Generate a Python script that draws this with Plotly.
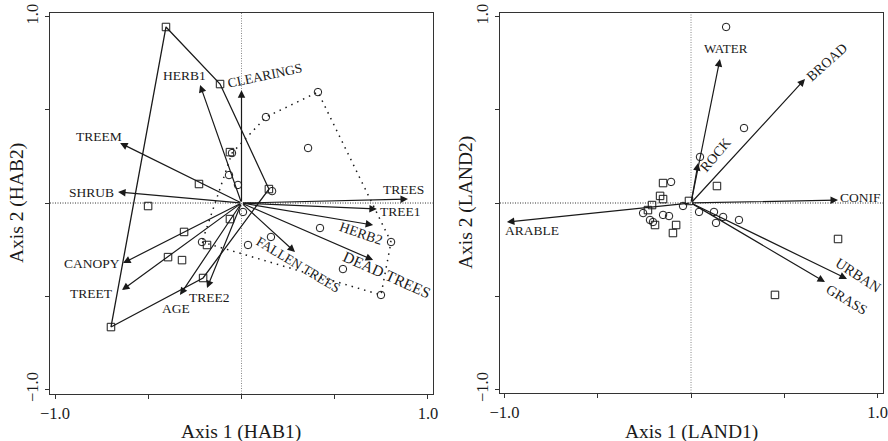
import plotly.graph_objects as go

FONT = "Liberation Serif, Times New Roman, serif"
INK = "#1a1a1a"

# ---------------- Left panel: habitat variables ----------------
hab_vars = ["CLEARINGS", "HERB1", "TREEM", "SHRUB", "CANOPY", "TREET", "AGE",
            "TREE2", "TREES", "TREE1", "HERB2", "FALLEN TREES", "DEAD TREES"]
hab_x = [0.0, -0.222, -0.651, -0.662, -0.635, -0.641, -0.330,
         -0.185, 0.893, 0.726, 0.706, 0.287, 0.706]
hab_y = [0.605, 0.633, 0.322, 0.059, -0.322, -0.467, -0.493,
         -0.456, 0.021, -0.032, -0.118, -0.263, -0.306]
hab_lab_x = [0.126, -0.308, -0.764, -0.802, -0.802, -0.802, -0.351,
             -0.169, 0.871, 0.855, 0.641, 0.303, 0.780]
hab_lab_y = [0.686, 0.686, 0.359, 0.054, -0.322, -0.483, -0.563,
             -0.504, 0.070, -0.043, -0.161, -0.327, -0.381]
hab_lab_angle = [-12, 0, 0, 0, 0, 0, 0, 0, 0, 0, 19, 31, 24]
hab_lab_size = [13.5, 13.5, 13.5, 13.5, 13.5, 13.5, 13.5, 13.5, 13.5, 13.5, 14, 13.5, 15.5]

hab_sq_x = [-0.405, -0.115, -0.062, -0.228, 0.147, -0.501, -0.062,
            -0.308, -0.185, -0.394, -0.319, -0.206, -0.700]
hab_sq_y = [0.944, 0.638, 0.273, 0.102, 0.075, -0.016, -0.086,
            -0.155, -0.225, -0.290, -0.306, -0.402, -0.665]
hab_ci_x = [0.410, 0.131, 0.357, -0.051, -0.067, -0.019, 0.164, 0.008,
            -0.212, 0.035, 0.158, 0.421, 0.802, 0.544, 0.748]
hab_ci_y = [0.595, 0.461, 0.295, 0.268, 0.150, 0.097, 0.064, -0.048,
            -0.209, -0.225, -0.182, -0.134, -0.209, -0.354, -0.493]

# ---------------- Right panel: landscape variables ----------------
land_vars = ["WATER", "BROAD", "ROCK", "CONIF", "ARABLE", "URBAN", "GRASS"]
land_x = [0.155, 0.611, 0.038, 0.788, -0.987, 0.836, 0.718]
land_y = [0.772, 0.665, 0.214, 0.016, -0.102, -0.407, -0.424]
land_lab_x = [0.188, 0.729, 0.129, 0.906, -0.853, 0.895, 0.831]
land_lab_y = [0.831, 0.751, 0.257, 0.027, -0.145, -0.386, -0.520]
land_lab_angle = [0, -42, -50, 0, 0, 33, 31]
land_lab_size = [13, 14, 14, 13.5, 13.5, 14.5, 14]

land_sq_x = [-0.150, -0.166, -0.150, -0.209, -0.231, 0.139, -0.011,
             -0.080, -0.097, -0.193, 0.788, 0.450]
land_sq_y = [0.107, 0.038, 0.021, -0.011, -0.038, 0.091, 0.011,
             -0.118, -0.161, -0.118, -0.193, -0.493]
land_ci_x = [0.188, 0.284, 0.048, -0.107, -0.043, -0.257, -0.220, -0.204,
             -0.150, -0.118, 0.043, 0.123, 0.172, 0.134, 0.257]
land_ci_y = [0.944, 0.402, 0.247, 0.113, -0.016, -0.054, -0.091, -0.102,
             -0.064, -0.070, -0.048, -0.048, -0.075, -0.107, -0.091]

tick_vals = [-1.0, -0.5, 0.0, 0.5, 1.0]
tick_text = ["\u22121.0", "", "", "", "1.0"]


def hull(xs, ys):
    pts = sorted(set(zip(xs, ys)))

    def cross(o, a, b):
        return (a[0] - o[0]) * (b[1] - o[1]) - (a[1] - o[1]) * (b[0] - o[0])

    lower, upper = [], []
    for p in pts:
        while len(lower) >= 2 and cross(lower[-2], lower[-1], p) <= 0:
            lower.pop()
        lower.append(p)
    for p in reversed(pts):
        while len(upper) >= 2 and cross(upper[-2], upper[-1], p) <= 0:
            upper.pop()
        upper.append(p)
    h = lower[:-1] + upper[:-1]
    h.append(h[0])
    return [p[0] for p in h], [p[1] for p in h]


fig = go.Figure()

# hulls (left panel)
hx, hy = hull(hab_sq_x, hab_sq_y)
fig.add_trace(go.Scatter(x=hx, y=hy, mode="lines", line=dict(color=INK, width=1.3),
                         xaxis="x", yaxis="y", hoverinfo="skip"))
cx, cy = hull(hab_ci_x, hab_ci_y)
fig.add_trace(go.Scatter(x=cx, y=cy, mode="lines",
                         line=dict(color=INK, width=1.5, dash="1.5px,5px"),
                         xaxis="x", yaxis="y", hoverinfo="skip"))

# markers
for xs, ys, sym, xa, ya in [(hab_sq_x, hab_sq_y, "square-open", "x", "y"),
                            (hab_ci_x, hab_ci_y, "circle-open", "x", "y"),
                            (land_sq_x, land_sq_y, "square-open", "x2", "y2"),
                            (land_ci_x, land_ci_y, "circle-open", "x2", "y2")]:
    fig.add_trace(go.Scatter(x=xs, y=ys, mode="markers",
                             marker=dict(symbol=sym, size=7.5, color=INK,
                                         line=dict(width=1, color=INK)),
                             xaxis=xa, yaxis=ya, hoverinfo="skip"))

shapes = []
for xr, yr in [("x", "y"), ("x2", "y2")]:
    shapes.append(dict(type="line", xref=xr, yref=yr + " domain", x0=0, x1=0, y0=0, y1=1,
                       line=dict(color="#888888", width=1, dash="1px,1.5px"), layer="below"))
    shapes.append(dict(type="line", xref=xr + " domain", yref=yr, x0=0, x1=1, y0=0, y1=0,
                       line=dict(color="#333333", width=1, dash="1px,1.5px"), layer="below"))

annotations = []


def add_arrows(names, xs, ys, lx, ly, ang, sz, xr, yr):
    for n, x, y, tx, ty, a, s in zip(names, xs, ys, lx, ly, ang, sz):
        annotations.append(dict(x=x, y=y, ax=0, ay=0, xref=xr, yref=yr, axref=xr, ayref=yr,
                                text="", showarrow=True, arrowhead=2, arrowsize=1.25,
                                arrowwidth=1.2, arrowcolor=INK, standoff=0, startstandoff=0))
        annotations.append(dict(x=tx, y=ty, xref=xr, yref=yr, text=n, showarrow=False,
                                textangle=a, xanchor="center", yanchor="middle",
                                font=dict(family=FONT, size=s, color=INK)))


add_arrows(hab_vars, hab_x, hab_y, hab_lab_x, hab_lab_y, hab_lab_angle, hab_lab_size, "x", "y")
add_arrows(land_vars, land_x, land_y, land_lab_x, land_lab_y, land_lab_angle, land_lab_size, "x2", "y2")

# axis titles
for txt, x, y, ang in [("Axis 1 (HAB1)", 241 / 888, 9 / 441, 0),
                       ("Axis 2 (HAB2)", 17 / 888, 238 / 441, -90),
                       ("Axis 1 (LAND1)", 691 / 888, 9 / 441, 0),
                       ("Axis 2 (LAND2)", 466 / 888, 238 / 441, -90)]:
    annotations.append(dict(x=x, y=y, xref="paper", yref="paper", text=txt, showarrow=False,
                            textangle=ang, xanchor="center", yanchor="middle",
                            font=dict(family=FONT, size=19.5, color=INK)))

axis_common = dict(showline=True, mirror=True, linecolor="#333333", linewidth=1.4,
                   ticks="outside", ticklen=4, tickwidth=1, tickcolor="#333333",
                   tickvals=tick_vals, ticktext=tick_text, showgrid=False, zeroline=False,
                   automargin=False,
                   tickfont=dict(family=FONT, size=16.5, color=INK), fixedrange=True)

fig.update_layout(
    template="none",
    width=888, height=441,
    margin=dict(l=0, r=0, t=0, b=0, pad=0, autoexpand=False),
    paper_bgcolor="white", plot_bgcolor="white",
    showlegend=False,
    font=dict(family=FONT, color=INK),
    xaxis=dict(domain=[50 / 888, 433 / 888], range=[-1.027, 1.027], anchor="y", **axis_common),
    yaxis=dict(domain=[47 / 441, 428 / 441], range=[-1.024, 1.019], anchor="x",
               tickangle=-90, **axis_common),
    xaxis2=dict(domain=[500 / 888, 883 / 888], range=[-1.024, 1.029], anchor="y2", **axis_common),
    yaxis2=dict(domain=[48 / 441, 428 / 441], range=[-1.019, 1.019], anchor="x2",
                tickangle=-90, **axis_common),
    shapes=shapes,
    annotations=annotations,
)

fig.write_html("out.html", config={"displayModeBar": False},
               post_script="document.body.style.margin='0px';"
                           "document.body.style.overflow='hidden';")
